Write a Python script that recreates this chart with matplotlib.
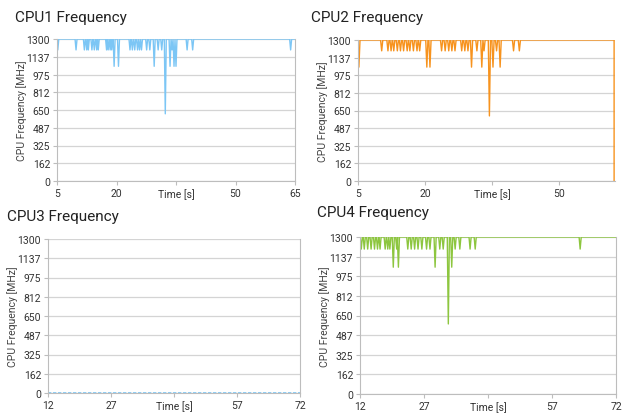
import numpy as np
import matplotlib.pyplot as plt

plt.rcParams['font.family'] = ['Roboto', 'DejaVu Sans']

# dips below the 1300 MHz plateau: (time [s], frequency [MHz])
cpu1_dip_t = [5.2, 9.8, 11.9, 12.5, 12.9, 13.8, 14.4, 15.0, 15.4, 17.5, 17.9, 18.4, 18.8,
              19.4, 20.5, 23.4, 24.0, 24.6, 25.3, 25.8, 26.3, 27.6, 28.4, 29.5, 30.5, 31.4,
              32.3, 33.5, 34.0, 34.5, 35.0, 37.8, 39.2, 63.9]
cpu1_dip_v = [1200, 1200, 1200, 1200, 1200, 1200, 1200, 1200, 1200, 1200, 1200, 1200, 1200,
              1050, 1050, 1200, 1200, 1200, 1200, 1200, 1200, 1200, 1200, 1050, 1200, 1200,
              615, 1050, 1200, 1050, 1050, 1200, 1200, 1200]

cpu2_dip_t = [5.2, 10.3, 11.7, 12.4, 13.0, 13.8, 14.5, 15.2, 16.0, 16.6, 17.4, 18.2, 18.8,
              20.4, 21.1, 23.7, 24.5, 25.3, 26.0, 26.7, 28.2, 28.9, 29.6, 30.4, 31.6, 32.7,
              33.2, 34.4, 35.2, 36.0, 36.8, 39.8, 41.1]
cpu2_dip_v = [1050, 1200, 1200, 1200, 1200, 1200, 1200, 1200, 1200, 1200, 1200, 1200, 1200,
              1050, 1050, 1200, 1200, 1200, 1200, 1200, 1200, 1200, 1200, 1050, 1200, 1050,
              1200, 600, 1050, 1200, 1050, 1200, 1200]
cpu2_end_t = 62.3

cpu4_dip_t = [12.3, 13.0, 13.8, 14.6, 15.4, 16.1, 16.7, 17.9, 18.5, 19.0, 19.8, 20.6, 21.0,
              23.2, 24.0, 24.8, 25.6, 26.5, 27.6, 28.4, 29.6, 30.7, 31.5, 32.7, 33.5, 34.3,
              35.4, 37.8, 39.0, 63.6]
cpu4_dip_v = [1200, 1200, 1200, 1200, 1200, 1200, 1200, 1200, 1200, 1200, 1050, 1200, 1050,
              1200, 1200, 1200, 1200, 1200, 1200, 1200, 1050, 1200, 1200, 580, 1050, 1200,
              1200, 1200, 1200, 1200]

cpu3_t = [12, 72]
cpu3_v = [0, 0]

yticks = [0, 162, 325, 487, 650, 812, 975, 1137, 1300]


def spikes(t0, t1, dip_t, dip_v, w=0.25):
    xs, ys = [t0], [1300]
    for t, v in zip(dip_t, dip_v):
        xs += [t - w, t, t + w]
        ys += [1300, v, 1300]
    xs.append(t1)
    ys.append(1300)
    return xs, ys


fig = plt.figure(figsize=(6.29, 4.14), dpi=100)


def setup(ax, xlim, xticks, xlabels, title_xy):
    ax.set_xlim(*xlim)
    ax.set_ylim(0, 1300)
    ax.set_yticks(yticks)
    ax.set_yticklabels([str(v) for v in yticks])
    ax.set_xticks(xticks)
    ax.set_xticklabels(xlabels)
    ax.grid(axis='y', color='#d4d4d4', lw=0.9)
    ax.set_axisbelow(True)
    ax.spines['top'].set_visible(False)
    for s in ['left', 'bottom', 'right']:
        ax.spines[s].set_color('#bdbdbd')
    ax.tick_params(labelsize=7.5, colors='#bdbdbd', labelcolor='#333333', length=3, pad=2)
    ax.set_ylabel('CPU Frequency [MHz]', fontsize=7.5, color='#444444', labelpad=0)
    fig.text(title_xy[0] / 629, 1 - title_xy[1] / 414, title_xy[2], fontsize=11,
             color='#222222', ha='left', va='center')


ax1 = fig.add_axes([57 / 629, 1 - 182 / 414, 238 / 629, 142 / 414])
x, y = spikes(5, 65, cpu1_dip_t, cpu1_dip_v)
ax1.plot(x, y, color='#7cc6f5', lw=1)
setup(ax1, (5, 65), [5, 20, 35, 50, 65], ['5', '20', 'Time [s]', '50', '65'],
      (15, 18, 'CPU1 Frequency'))

ax2 = fig.add_axes([358 / 629, 1 - 182 / 414, 257 / 629, 141 / 414])
x, y = spikes(5, cpu2_end_t, cpu2_dip_t, cpu2_dip_v)
x.append(cpu2_end_t)
y.append(0)
ax2.plot(x, y, color='#f7931e', lw=1)
setup(ax2, (5, 62.5), [5, 20, 35, 50], ['5', '20', 'Time [s]', '50'],
      (311, 18, 'CPU2 Frequency'))
ax2.spines['right'].set_visible(False)

ax3 = fig.add_axes([48 / 629, 1 - 394 / 414, 252 / 629, 154 / 414])
ax3.plot(cpu3_t, cpu3_v, color='#7cc6f5', lw=1.2, ls=(0, (2, 1)))
setup(ax3, (12, 72), [12, 27, 42, 57, 72], ['12', '27', 'Time [s]', '57', '72'],
      (7, 217, 'CPU3 Frequency'))

ax4 = fig.add_axes([360 / 629, 1 - 395 / 414, 256 / 629, 157 / 414])
x, y = spikes(12, 72, cpu4_dip_t, cpu4_dip_v)
ax4.plot(x, y, color='#8dc63f', lw=1)
setup(ax4, (12, 72), [12, 27, 42, 57, 72], ['12', '27', 'Time [s]', '57', '72'],
      (317, 213, 'CPU4 Frequency'))

fig.savefig('out.png', dpi=100)
